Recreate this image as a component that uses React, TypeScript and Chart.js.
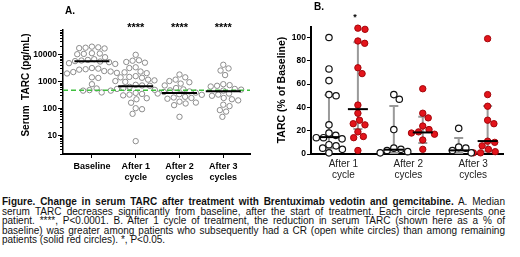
import React, { useEffect, useRef } from "react";
import { Chart, registerables } from "chart.js";
Chart.register(...registerables);

const FONT = "Arial, 'Liberation Sans', Helvetica, sans-serif";

// ---------- Panel A data ----------
const categoriesA = [["Baseline"], ["After 1", "cycle"], ["After 2", "cycles"], ["After 3", "cycles"]];
const baselineA = [19300, 18200, 17600, 17000, 16500, 11000, 10700, 10400, 10100, 7800, 6600, 6200, 5900, 5600, 5400, 5100, 4700, 4400, 3100, 2950, 2800, 2700, 2400, 2300, 2200, 2050, 1950, 1400, 1330, 780, 540, 470, 450, 385];
const after1A = [9600, 6000, 5800, 5200, 4900, 3300, 3100, 2300, 2150, 2000, 1550, 1450, 1400, 1350, 1150, 1080, 1020, 950, 740, 700, 680, 620, 560, 520, 480, 450, 370, 340, 320, 300, 235, 215, 160, 100, 92, 62, 6];
const after2A = [1780, 1400, 1150, 1020, 920, 820, 700, 560, 500, 460, 420, 400, 380, 350, 330, 315, 265, 250, 240, 225, 175, 162, 150, 130, 48];
const after3A = [4100, 3000, 2500, 1700, 780, 720, 680, 640, 520, 490, 450, 350, 320, 290, 240, 215, 195, 135, 120, 85, 75, 48];
const mediansA = [5500, 650, 370, 425];
const thresholdA = 460;
const starsA = ["", "****", "****", "****"];
const yTicksA = [10, 100, 1000, 10000];
const yTitleA = "Serum  TARC (pg/mL)";

// ---------- Panel B data ----------
const categoriesB = [["After 1", "cycle"], ["After 2", "cycles"], ["After 3", "cycles"]];
const crCycle1 = [100, 73, 63, 51, 50, 25, 18, 16, 14, 14, 13, 8, 7, 5, 4, 1];
const crCycle2 = [51, 47, 21, 5, 4, 3, 2, 1];
const crCycle3 = [22, 6, 5, 3, 1];
const otherCycle1 = [108, 107, 97, 95, 74, 69, 42, 35, 29, 26, 25, 19, 15, 14, 3];
const otherCycle2 = [56, 35, 31, 24, 21, 19, 18, 17, 12, 4];
const otherCycle3 = [99, 51, 41, 29, 26, 11, 10, 7, 4, 2, 1, 1];
const crMedian = [14.5, 3.7, 3.1];
const crQ1 = [5, 0.8, 0.8];
const crQ3 = [50.7, 41.3, 13.7];
const otherMedian = [38.5, 18.5, 11.1];
const otherQ1 = [21.4, 9.4, 2.2];
const otherQ3 = [96, 32, 41.3];
const starsB = ["*", "", ""];
const yTicksB = [0, 20, 40, 60, 80, 100];
const yTitleB = "TARC (% of Baseline)";

const captionLines: { bold?: string; text: string }[] = [
  { bold: "Figure.  Change in serum  TARC after treatment with Brentuximab vedotin and gemcitabine.", text: " A. Median" },
  { text: "serum TARC decreases significantly from baseline, after the start of treatment.  Each circle represents one" },
  { text: "patient. ****, P<0.0001. B. After 1 cycle of treatment, the reduction in serum TARC (shown here as a % of" },
  { text: "baseline) was greater among patients who subsequently had a CR (open white circles) than among remaining" },
  { text: "patients  (solid red circles). *, P<0.05." },
];

// deterministic beeswarm: offsets (in x-units) derived from the values
function swarm(values: number[], toPx: (v: number) => number, diam: number, pxPerUnit: number): number[] {
  const order = values.map((_, i) => i).sort((a, b) => values[b] - values[a]);
  const placed: { x: number; y: number }[] = [];
  const offs = new Array(values.length).fill(0);
  for (const i of order) {
    const y = toPx(values[i]);
    const near = placed.filter((p) => Math.abs(p.y - y) < diam);
    const cands = [0];
    for (const p of near) {
      const dx = Math.sqrt(diam * diam - (p.y - y) ** 2);
      cands.push(p.x + dx + 0.01, p.x - dx - 0.01);
    }
    cands.sort((a, b) => Math.abs(a) - Math.abs(b));
    let x = 0;
    for (const c of cands) {
      if (near.every((p) => (p.x - c) ** 2 + (p.y - y) ** 2 >= diam * diam - 0.05)) {
        x = c;
        break;
      }
    }
    placed.push({ x, y });
    offs[i] = x / pxPerUnit;
  }
  return offs;
}

function drawRotatedTitle(ctx: CanvasRenderingContext2D, text: string, cx: number, cy: number, font: string) {
  ctx.save();
  ctx.translate(cx, cy);
  ctx.rotate(-Math.PI / 2);
  ctx.font = font;
  ctx.fillStyle = "#000";
  ctx.textAlign = "center";
  ctx.textBaseline = "middle";
  ctx.fillText(text, 0, 0);
  ctx.restore();
}

function PanelA() {
  const ref = useRef<HTMLCanvasElement>(null);
  useEffect(() => {
    const groups = [baselineA, after1A, after2A, after3A];
    const pointDatasets = groups.map((vals, gi) => {
      const offs = swarm(vals, (v) => Math.log10(v) * 26.95, 6.4, 43.8);
      return {
        type: "scatter" as const,
        data: vals.map((v, k) => ({ x: gi + offs[k], y: v })),
        pointRadius: 2.7,
        pointBorderWidth: 1,
        pointBorderColor: "#8c8c8c",
        pointBackgroundColor: "#ffffff",
        clip: false,
      };
    });
    const plugin = {
      id: "panelA",
      afterDatasetsDraw(chart: any) {
        const { ctx, scales, chartArea } = chart;
        const x = scales.x, y = scales.y;
        ctx.save();
        // threshold dashed line
        const ty = y.getPixelForValue(thresholdA);
        ctx.strokeStyle = "#3fbf3f";
        ctx.lineWidth = 1.5;
        ctx.setLineDash([5, 3]);
        ctx.beginPath();
        ctx.moveTo(chartArea.left, ty);
        ctx.lineTo(chartArea.right, ty);
        ctx.stroke();
        ctx.setLineDash([]);
        // medians
        ctx.strokeStyle = "#000";
        ctx.lineWidth = 2;
        mediansA.forEach((m, i) => {
          const px = x.getPixelForValue(i);
          const py = y.getPixelForValue(m);
          ctx.beginPath();
          ctx.moveTo(px - 17.5, py);
          ctx.lineTo(px + 17.5, py);
          ctx.stroke();
        });
        ctx.restore();
      },
      afterDraw(chart: any) {
        const { ctx, scales, chartArea } = chart;
        const x = scales.x, y = scales.y;
        ctx.save();
        // log ticks (major + minor)
        ctx.strokeStyle = "#000";
        ctx.lineWidth = 1;
        for (let d = 0; d <= 5; d++) {
          for (let m = 1; m <= 9; m++) {
            const v = m * Math.pow(10, d);
            if (v < y.min || v > y.max) continue;
            const py = Math.round(y.getPixelForValue(v)) + 0.5;
            const len = m === 1 ? 5 : 3;
            ctx.beginPath();
            ctx.moveTo(chartArea.left - len, py);
            ctx.lineTo(chartArea.left, py);
            ctx.stroke();
          }
        }
        // significance stars
        ctx.fillStyle = "#000";
        ctx.font = `bold 11px ${FONT}`;
        ctx.textAlign = "center";
        ctx.textBaseline = "alphabetic";
        starsA.forEach((s, i) => {
          if (s) ctx.fillText(s, x.getPixelForValue(i), 30.5);
        });
        // panel letter
        ctx.font = `bold 10px ${FONT}`;
        ctx.textAlign = "left";
        ctx.textBaseline = "middle";
        ctx.fillText("A.", 65, 11);
        ctx.restore();
        drawRotatedTitle(ctx, yTitleA, 26.5, 85, `bold 10px ${FONT}`);
      },
    };
    const chart = new Chart(ref.current!, {
      type: "scatter",
      data: { datasets: pointDatasets as any },
      options: {
        animation: false,
        responsive: false,
        devicePixelRatio: 1,
        layout: { padding: { top: 30, right: 10, left: 0, bottom: 0 } },
        plugins: { legend: { display: false }, tooltip: { enabled: false } },
        scales: {
          x: {
            type: "linear",
            min: -0.66,
            max: 3.61,
            afterFit: (s: any) => { s.height = 28; },
            afterBuildTicks: (s: any) => { s.ticks = categoriesA.map((_, i) => ({ value: i })); },
            grid: { display: true, drawOnChartArea: false, drawTicks: true, tickLength: 4, color: "#000", lineWidth: 1 },
            border: { display: true, color: "#000", width: 2 },
            ticks: {
              autoSkip: false,
              maxRotation: 0,
              padding: 3,
              color: "#000",
              font: { family: FONT, size: 9, weight: "bold", lineHeight: 1.2 },
              callback: (v: any) => categoriesA[v as number] ?? "",
            },
          },
          y: {
            type: "logarithmic",
            min: 2,
            max: 80000,
            afterFit: (s: any) => { s.width = 63; },
            afterBuildTicks: (s: any) => { s.ticks = yTicksA.map((v) => ({ value: v })); },
            grid: { display: false, drawTicks: false },
            border: { display: true, color: "#000", width: 1.5 },
            ticks: {
              padding: 6,
              color: "#000",
              font: { family: FONT, size: 8.5, weight: "bold" },
              callback: (v: any) => String(v),
            },
          },
        },
      } as any,
      plugins: [plugin],
    });
    return () => chart.destroy();
  }, []);
  return <canvas ref={ref} width={260} height={182} style={{ position: "absolute", left: 0, top: 0, width: 260, height: 182 }} />;
}

function PanelB() {
  const ref = useRef<HTMLCanvasElement>(null);
  useEffect(() => {
    const crGroups = [crCycle1, crCycle2, crCycle3];
    const otherGroups = [otherCycle1, otherCycle2, otherCycle3];
    const SHIFT = 0.223;
    const mk = (vals: number[], center: number) => {
      const offs = swarm(vals, (v) => v * 1.17, 7.2, 65);
      return vals.map((v, k) => ({ x: center + offs[k], y: v }));
    };
    const crData = crGroups.flatMap((vals, gi) => mk(vals, gi - SHIFT));
    const otherData = otherGroups.flatMap((vals, gi) => mk(vals, gi + SHIFT));
    const plugin = {
      id: "panelB",
      beforeDatasetsDraw(chart: any) {
        const { ctx, scales } = chart;
        const x = scales.x, y = scales.y;
        ctx.save();
        ctx.strokeStyle = "#9a9a9a";
        ctx.lineWidth = 2;
        const bar = (cx: number, lo: number, hi: number) => {
          const px = x.getPixelForValue(cx);
          const y1 = y.getPixelForValue(lo), y2 = y.getPixelForValue(hi);
          ctx.beginPath();
          ctx.moveTo(px, y1);
          ctx.lineTo(px, y2);
          ctx.moveTo(px - 4.5, y1);
          ctx.lineTo(px + 4.5, y1);
          ctx.moveTo(px - 4.5, y2);
          ctx.lineTo(px + 4.5, y2);
          ctx.stroke();
        };
        categoriesB.forEach((_, i) => {
          bar(i - SHIFT, crQ1[i], crQ3[i]);
          bar(i + SHIFT, otherQ1[i], otherQ3[i]);
        });
        ctx.restore();
      },
      afterDatasetsDraw(chart: any) {
        const { ctx, scales } = chart;
        const x = scales.x, y = scales.y;
        ctx.save();
        ctx.strokeStyle = "#000";
        ctx.lineWidth = 2;
        const med = (cx: number, m: number) => {
          const px = x.getPixelForValue(cx);
          const py = y.getPixelForValue(m);
          ctx.beginPath();
          ctx.moveTo(px - 10, py);
          ctx.lineTo(px + 10, py);
          ctx.stroke();
        };
        categoriesB.forEach((_, i) => {
          med(i - SHIFT, crMedian[i]);
          med(i + SHIFT, otherMedian[i]);
        });
        ctx.restore();
      },
      afterDraw(chart: any) {
        const { ctx, scales } = chart;
        const x = scales.x;
        ctx.save();
        ctx.fillStyle = "#000";
        ctx.font = `bold 9px ${FONT}`;
        ctx.textAlign = "center";
        ctx.textBaseline = "alphabetic";
        starsB.forEach((s, i) => {
          if (s) ctx.fillText(s, x.getPixelForValue(i + SHIFT) - 3, 20);
        });
        ctx.font = `bold 10px ${FONT}`;
        ctx.textAlign = "left";
        ctx.textBaseline = "middle";
        ctx.fillText("B.", 54, 7.5);
        ctx.restore();
        drawRotatedTitle(ctx, yTitleB, 21.7, 90, `bold 10.5px ${FONT}`);
      },
    };
    const chart = new Chart(ref.current!, {
      type: "scatter",
      data: {
        datasets: [
          {
            data: crData,
            pointRadius: 3.2,
            pointBorderWidth: 1.2,
            pointBorderColor: "#111",
            pointBackgroundColor: "#ffffff",
            clip: false,
          },
          {
            data: otherData,
            pointRadius: 3.2,
            pointBorderWidth: 1,
            pointBorderColor: "#a3060b",
            pointBackgroundColor: "#e3141b",
            clip: false,
          },
        ],
      },
      options: {
        animation: false,
        responsive: false,
        devicePixelRatio: 1,
        layout: { padding: { top: 27, right: 17, left: 0, bottom: 0 } },
        plugins: { legend: { display: false }, tooltip: { enabled: false } },
        scales: {
          x: {
            type: "linear",
            min: -0.5,
            max: 2.46,
            afterFit: (s: any) => { s.height = 28; },
            afterBuildTicks: (s: any) => { s.ticks = categoriesB.map((_, i) => ({ value: i })); },
            grid: { display: false, drawTicks: false },
            border: { display: true, color: "#000", width: 2 },
            ticks: {
              autoSkip: false,
              maxRotation: 0,
              padding: 5,
              color: "#222",
              font: { family: FONT, size: 10, lineHeight: 1.1 },
              callback: (v: any) => categoriesB[v as number] ?? "",
            },
          },
          y: {
            type: "linear",
            min: 0,
            max: 109,
            afterFit: (s: any) => { s.width = 51; },
            afterBuildTicks: (s: any) => { s.ticks = yTicksB.map((v) => ({ value: v })); },
            grid: { display: true, drawOnChartArea: false, drawTicks: true, tickLength: 4, color: "#000", lineWidth: 1 },
            border: { display: true, color: "#000", width: 2 },
            ticks: {
              padding: 1,
              color: "#000",
              font: { family: FONT, size: 8.5, weight: "bold" },
            },
          },
        },
      } as any,
      plugins: [plugin],
    });
    return () => chart.destroy();
  }, []);
  return <canvas ref={ref} width={260} height={182} style={{ position: "absolute", left: 260, top: 0, width: 260, height: 182 }} />;
}

function Caption() {
  return (
    <div style={{ position: "absolute", left: 2, top: 197, width: 503, fontFamily: FONT, fontSize: 10, lineHeight: "9.6px", color: "#111" }}>
      {captionLines.map((l, i) => (
        <div key={i} style={{ textAlign: "justify", textAlignLast: i === captionLines.length - 1 ? "left" : "justify" } as any}>
          {l.bold ? <b>{l.bold}</b> : null}
          {l.text}
        </div>
      ))}
    </div>
  );
}

export default function App() {
  return (
    <div style={{ position: "fixed", left: 0, top: 0, width: 520, height: 257, background: "#fff", overflow: "hidden" }}>
      <PanelA />
      <PanelB />
      <Caption />
    </div>
  );
}
